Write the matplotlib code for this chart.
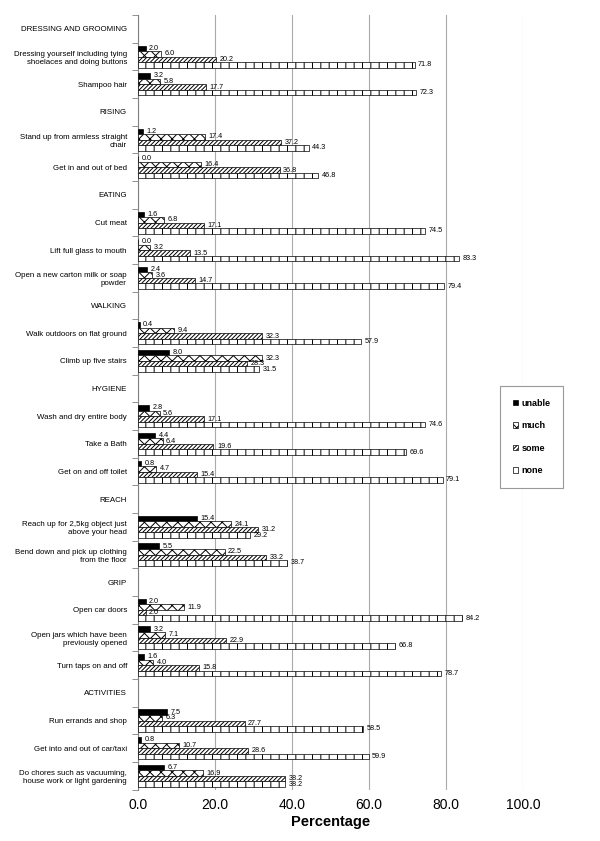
import numpy as np
import matplotlib
matplotlib.use('Agg')
import matplotlib.pyplot as plt

plt.rcParams['font.family'] = ['Liberation Sans', 'DejaVu Sans']
plt.rcParams['hatch.linewidth'] = 0.7

# categories, top to bottom (None = section header, no bars)
labels = ['DRESSING AND GROOMING',
          'Dressing yourself including tying\nshoelaces and doing buttons',
          'Shampoo hair',
          'RISING',
          'Stand up from armless straight\nchair',
          'Get in and out of bed',
          'EATING',
          'Cut meat',
          'Lift full glass to mouth',
          'Open a new carton milk or soap\npowder',
          'WALKING',
          'Walk outdoors on flat ground',
          'Climb up five stairs',
          'HYGIENE',
          'Wash and dry entire body',
          'Take a Bath',
          'Get on and off toilet',
          'REACH',
          'Reach up for 2,5kg object just\nabove your head',
          'Bend down and pick up clothing\nfrom the floor',
          'GRIP',
          'Open car doors',
          'Open jars which have been\npreviously opened',
          'Turn taps on and off',
          'ACTIVITIES',
          'Run errands and shop',
          'Get into and out of car/taxi',
          'Do chores such as vacuuming,\nhouse work or light gardening']

unable = [None, 2.0, 3.2, None, 1.2, 0.0, None, 1.6, 0.0, 2.4, None, 0.4, 8.0,
          None, 2.8, 4.4, 0.8, None, 15.4, 5.5, None, 2.0, 3.2, 1.6, None, 7.5, 0.8, 6.7]
much = [None, 6.0, 5.8, None, 17.4, 16.4, None, 6.8, 3.2, 3.6, None, 9.4, 32.3,
        None, 5.6, 6.4, 4.7, None, 24.1, 22.5, None, 11.9, 7.1, 4.0, None, 6.3, 10.7, 16.9]
some = [None, 20.2, 17.7, None, 37.2, 36.8, None, 17.1, 13.5, 14.7, None, 32.3, 28.3,
        None, 17.1, 19.6, 15.4, None, 31.2, 33.2, None, 2.0, 22.9, 15.8, None, 27.7, 28.6, 38.2]
none = [None, 71.8, 72.3, None, 44.3, 46.8, None, 74.5, 83.3, 79.4, None, 57.9, 31.5,
        None, 74.6, 69.6, 79.1, None, 29.2, 38.7, None, 84.2, 66.8, 78.7, None, 58.5, 59.9, 38.2]

series = [('unable', unable, 'black', ''),
          ('much', much, 'white', 'xxx'),
          ('some', some, 'white', '////////'),
          ('none', none, 'white', '||')]

fig = plt.figure(figsize=(6, 8.41), dpi=100)
ax = fig.add_axes([0.23, 0.061, 0.642, 0.921])

n = len(labels)
y = np.arange(n)
h = 0.2
for i, (name, vals, fc, hatch) in enumerate(series):
    idx = [k for k in range(n) if vals[k] is not None]
    v = [vals[k] for k in idx]
    pos = y[idx] - 0.3 + i * h
    ax.barh(pos, v, height=h, color=fc, edgecolor='black', linewidth=0.5,
            hatch=hatch, label=name, zorder=3)
    for p, val in zip(pos, v):
        ax.text(val + 0.9, p, '%.1f' % val, va='center', ha='left', fontsize=5.2, zorder=4)

ax.set_ylim(n - 0.5, -0.5)
ax.set_xlim(0, 100)
ax.set_yticks(y)
ax.set_yticklabels(labels, fontsize=5.7)
ax.tick_params(axis='y', length=0, pad=8)
ax.set_yticks(np.arange(n + 1) - 0.5, minor=True)
ax.tick_params(axis='y', which='minor', length=4, color='gray', width=0.6)

ax.set_xticks(np.arange(0, 101, 20))
ax.set_xticklabels(['%.1f' % t for t in np.arange(0, 101, 20)], fontsize=10)
ax.tick_params(axis='x', length=0, pad=6)
ax.set_xlabel('Percentage', fontsize=10.5, fontweight='bold', labelpad=2)
ax.grid(axis='x', color='#aaaaaa', linewidth=0.8, zorder=0)

for s in ['top', 'right', 'bottom']:
    ax.spines[s].set_visible(False)
ax.spines['left'].set_color('gray')
ax.spines['left'].set_linewidth(0.8)

leg = fig.legend(loc='center left', bbox_to_anchor=(500 / 600, 1 - 437 / 841),
                 frameon=True, fancybox=False, edgecolor='#999999', framealpha=1,
                 prop={'size': 6.5, 'weight': 'bold'}, labelspacing=1.5,
                 handlelength=0.6, handleheight=0.6, handletextpad=0.4,
                 borderpad=1.4, borderaxespad=0)
leg.get_frame().set_linewidth(0.8)

plt.savefig('out.png', dpi=100, facecolor='white')
